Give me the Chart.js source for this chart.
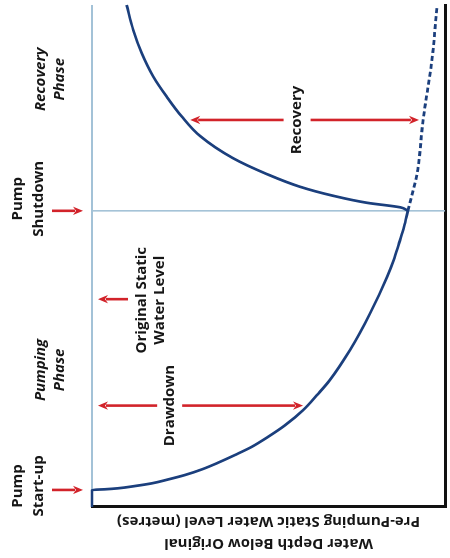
<!DOCTYPE html>
<html>
<head>
<meta charset="utf-8">
<script src="https://cdn.jsdelivr.net/npm/chart.js@4"></script>
<style>
  html, body { margin: 0; padding: 0; background: #fff; overflow: hidden; }
  body { width: 450px; height: 558px; position: relative; }
  /* the figure is drawn upright and turned a quarter turn, like the original */
  #chart-box {
    position: absolute;
    left: -54px;
    top: 54px;
    width: 558px;
    height: 450px;
    transform: rotate(-90deg);
  }
</style>
</head>
<body>
<div id="chart-box"><canvas id="chart" width="558" height="450"></canvas></div>
<script>
// time along x (arbitrary units 0-100), depth below static level along y (0-100)
const pumpStart = 3.4;
const pumpStop = 59;

const drawdownTime = [0, 3.4, 3.53, 3.73, 4.18, 4.72, 5.48, 6.37, 7.51, 8.82, 10.36, 12.0, 14.0, 16.3, 19.3, 22.5, 25.3, 31.3, 38.6, 45.8, 49.2, 52.6, 55.8, 59];
const drawdownDepth = [0, 0, 3.7, 7.4, 12.2, 17.0, 21.5, 26.3, 31.2, 35.7, 40.5, 45.3, 49.9, 54.7, 59.8, 64.0, 67.4, 73.1, 78.8, 83.6, 85.5, 87.0, 88.4, 89.5];

const recoveryTime = [59, 59.7, 60.6, 62.0, 63.8, 66.3, 69.5, 73.9, 77.8, 81.7, 85.7, 90.4, 95.0, 100];
const recoveryDepth = [89.5, 87.3, 77.9, 68.3, 58.9, 49.6, 39.9, 30.6, 25.4, 21.2, 17.4, 14.1, 11.7, 9.8];

// drawdown if the pump had kept running (dashed)
const continuedTime = [59, 66.5, 77.1, 89.0, 99.6];
const continuedDepth = [89.5, 92.1, 93.8, 96.3, 97.7];

const phaseLabels = [["Pump", "Start-up"], ["Pumping", "Phase"], ["Pump", "Shutdown"], ["Recovery", "Phase"]];
const phaseTimes = [4.2, 27.3, 61.4, 85.2];
const phaseItalic = [false, true, false, true];
const eventTimes = [pumpStart, pumpStop];

const staticLabel = ["Original Static", "Water Level"];
const staticLabelAt = [41.2, 16.7];
const staticArrow = [41.4, 10.2, 1.7]; // time, from depth, to depth

const drawdownLabel = "Drawdown";
const drawdownArrow = [20.2, 1.7, 59.8];
const drawdownLabelDepth = 22.0;

const recoveryLabel = "Recovery";
const recoveryArrow = [77.1, 27.8, 92.6];
const recoveryLabelDepth = 58.1;

const axisTitle = ["Water Depth Below Original", "Pre-Pumping Static Water Level (metres)"];

const NAVY = "#1b3f7d";
const LIGHT = "#a3c2d7";
const RED = "#d2232a";
const INK = "#161616";
const FONT = "'Open Sans', sans-serif";

const toPoints = (xs, ys) => xs.map((x, i) => ({ x, y: ys[i] }));

const drawArrow = (ctx, x1, y1, x2, y2) => {
  const angle = Math.atan2(y2 - y1, x2 - x1);
  const headLen = 10;
  const headHalf = 4.2;
  const cos = Math.cos(angle);
  const sin = Math.sin(angle);
  const bx = x2 - headLen * cos;
  const by = y2 - headLen * sin;
  ctx.beginPath();
  ctx.moveTo(x1, y1);
  ctx.lineTo(bx + 2 * cos, by + 2 * sin);
  ctx.stroke();
  ctx.beginPath();
  ctx.moveTo(x2, y2);
  ctx.lineTo(bx + headHalf * sin, by - headHalf * cos);
  ctx.lineTo(bx + 3 * cos, by + 3 * sin);
  ctx.lineTo(bx - headHalf * sin, by + headHalf * cos);
  ctx.closePath();
  ctx.fill();
};

// double arrow broken in the middle by its label
const drawSplitArrow = (ctx, x, yA, yB, yMid, gap) => {
  drawArrow(ctx, x, yMid - gap, x, yA);
  drawArrow(ctx, x, yMid + gap, x, yB);
};

const annotations = {
  id: "annotations",
  afterDatasetsDraw(chart) {
    const { ctx, chartArea } = chart;
    const xs = chart.scales.x;
    const ys = chart.scales.y;
    const top = chartArea.top;

    ctx.save();
    ctx.strokeStyle = RED;
    ctx.fillStyle = RED;
    ctx.lineWidth = 2.6;

    eventTimes.forEach((t) => {
      const px = xs.getPixelForValue(t);
      drawArrow(ctx, px, top - 40, px, top - 9);
    });

    const sx = xs.getPixelForValue(staticArrow[0]);
    drawArrow(ctx, sx, ys.getPixelForValue(staticArrow[1]), sx, ys.getPixelForValue(staticArrow[2]));

    const dx = xs.getPixelForValue(drawdownArrow[0]);
    drawSplitArrow(ctx, dx, ys.getPixelForValue(drawdownArrow[1]), ys.getPixelForValue(drawdownArrow[2]),
      ys.getPixelForValue(drawdownLabelDepth), 12.5);

    const rx = xs.getPixelForValue(recoveryArrow[0]);
    drawSplitArrow(ctx, rx, ys.getPixelForValue(recoveryArrow[1]), ys.getPixelForValue(recoveryArrow[2]),
      ys.getPixelForValue(recoveryLabelDepth), 13.5);

    ctx.fillStyle = INK;
    ctx.textAlign = "center";
    ctx.textBaseline = "middle";

    phaseLabels.forEach((lines, i) => {
      const px = xs.getPixelForValue(phaseTimes[i]);
      ctx.font = (phaseItalic[i] ? "italic " : "") + "bold 15px " + FONT;
      const rows = phaseItalic[i] ? [top - 51, top - 32] : [top - 74, top - 53];
      lines.forEach((line, j) => ctx.fillText(line, px, rows[j]));
    });

    ctx.font = "bold 15px " + FONT;
    const lx = xs.getPixelForValue(staticLabelAt[0]);
    const ly = ys.getPixelForValue(staticLabelAt[1]);
    ctx.fillText(staticLabel[0], lx, ly - 9);
    ctx.fillText(staticLabel[1], lx, ly + 9);

    ctx.fillText(drawdownLabel, dx, ys.getPixelForValue(drawdownLabelDepth));
    ctx.fillText(recoveryLabel, rx, ys.getPixelForValue(recoveryLabelDepth));
    ctx.restore();
  },
};

const ctx = document.getElementById("chart").getContext("2d");
new Chart(ctx, {
  type: "scatter",
  data: {
    datasets: [
      {
        label: "Drawdown",
        data: toPoints(drawdownTime, drawdownDepth),
        borderColor: NAVY,
        borderWidth: 2.7,
        order: 1,
      },
      {
        label: "Recovery",
        data: toPoints(recoveryTime, recoveryDepth),
        borderColor: NAVY,
        borderWidth: 2.7,
        order: 1,
      },
      {
        label: "Continued pumping",
        data: toPoints(continuedTime, continuedDepth),
        borderColor: NAVY,
        borderWidth: 2.8,
        borderDash: [5, 3],
        order: 1,
      },
      {
        label: "Original static water level",
        data: toPoints([pumpStart, 100], [0, 0]),
        borderColor: LIGHT,
        borderWidth: 2.2,
        order: 2,
      },
      {
        label: "Pump shutdown",
        data: toPoints([pumpStop, pumpStop], [0, 100]),
        borderColor: LIGHT,
        borderWidth: 1.6,
        order: 2,
      },
    ],
  },
  options: {
    responsive: false,
    animation: false,
    datasets: {
      scatter: {
        showLine: true,
        pointRadius: 0,
        pointHoverRadius: 0,
        cubicInterpolationMode: "monotone",
        fill: false,
        clip: false,
      },
    },
    layout: { padding: { top: 92, right: 5, bottom: 5, left: 0 } },
    plugins: {
      legend: { display: false },
      tooltip: { enabled: false },
    },
    scales: {
      x: {
        type: "linear",
        position: "bottom",
        min: 0,
        max: 100,
        grid: { display: false, drawTicks: false },
        ticks: { display: false },
        border: { display: true, color: "#111", width: 3 },
      },
      y: {
        type: "linear",
        position: "left",
        reverse: true,
        min: 0,
        max: 100,
        grid: { display: false, drawTicks: false },
        ticks: { display: false },
        border: { display: true, color: "#111", width: 3 },
        title: {
          display: true,
          text: axisTitle,
          color: INK,
          font: { family: FONT, size: 15, weight: "bold", lineHeight: 22 / 15 },
          padding: { top: 4, bottom: 3 },
        },
      },
    },
  },
  plugins: [annotations],
});
</script>
</body>
</html>
